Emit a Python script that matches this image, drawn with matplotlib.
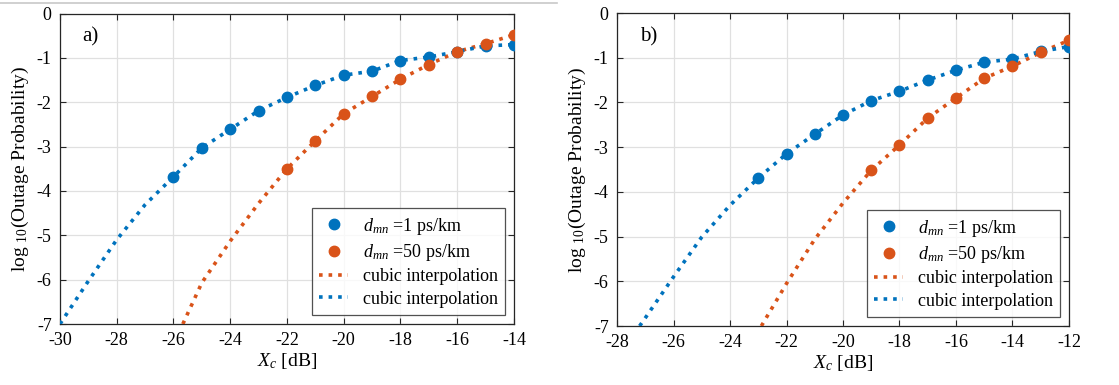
import matplotlib.pyplot as plt
from matplotlib.lines import Line2D

plt.rcParams['font.family'] = 'Liberation Serif'
plt.rcParams['mathtext.fontset'] = 'custom'
plt.rcParams['mathtext.rm'] = 'Liberation Serif'
plt.rcParams['mathtext.it'] = 'Liberation Serif:italic'
plt.rcParams['axes.unicode_minus'] = False

BLUE = '#0072BD'
ORANGE = '#D95319'

# panel a) simulated points
xa_1 = [-26, -25, -24, -23, -22, -21, -20, -19, -18, -17, -16, -15, -14]
ya_1 = [-3.68, -3.03, -2.61, -2.19, -1.89, -1.62, -1.39, -1.30, -1.06, -0.98, -0.86, -0.73, -0.70]
xa_50 = [-22, -21, -20, -19, -18, -17, -16, -15, -14]
ya_50 = [-3.50, -2.87, -2.26, -1.87, -1.48, -1.15, -0.86, -0.68, -0.48]
# panel a) cubic interpolation curves
fa_1_x = [-30, -29, -28, -27] + xa_1
fa_1_y = [-7.0, -6.03, -5.10, -4.31] + ya_1
fa_50_x = [-25.67, -25, -24, -23] + xa_50
fa_50_y = [-7.0, -6.07, -5.13, -4.28] + ya_50

# panel b) simulated points
xb_1 = [-23, -22, -21, -20, -19, -18, -17, -16, -15, -14, -13, -12]
yb_1 = [-3.69, -3.15, -2.71, -2.28, -1.96, -1.75, -1.50, -1.28, -1.10, -1.03, -0.86, -0.75]
xb_50 = [-19, -18, -17, -16, -15, -14, -13, -12]
yb_50 = [-3.52, -2.95, -2.35, -1.90, -1.46, -1.19, -0.88, -0.61]
# panel b) cubic interpolation curves
fb_1_x = [-27.2, -27, -26, -25, -24] + xb_1
fb_1_y = [-7.0, -6.82, -5.90, -5.01, -4.30] + yb_1
fb_50_x = [-22.89, -22, -21, -20] + xb_50
fb_50_y = [-7.0, -6.05, -5.06, -4.25] + yb_50

panels = [
    ('a)', [0.0536, 0.1584, 0.4057, 0.8065], (-30, -14),
     xa_1, ya_1, xa_50, ya_50, fa_1_x, fa_1_y, fa_50_x, fa_50_y),
    ('b)', [0.5514, 0.1532, 0.4039, 0.8130], (-28, -12),
     xb_1, yb_1, xb_50, yb_50, fb_1_x, fb_1_y, fb_50_x, fb_50_y),
]

fig = plt.figure(figsize=(11.19, 3.85), dpi=100)
fig.add_artist(Line2D([0, 0.498], [0.993, 0.993], color='#c8c8c8', lw=1.2))

for (tag, rect, xlim, x1, y1, x50, y50, f1x, f1y, f50x, f50y) in panels:
    ax = fig.add_axes(rect)
    ax.plot(x1, y1, 'o', color=BLUE, ms=7.5, label=r'$d_{mn}$ =1 ps/km', zorder=4)
    ax.plot(x50, y50, 'o', color=ORANGE, ms=7.5, label=r'$d_{mn}$ =50 ps/km', zorder=4)
    ax.plot(f50x, f50y, ':', color=ORANGE, lw=2.6, label='cubic interpolation', zorder=3)
    ax.plot(f1x, f1y, ':', color=BLUE, lw=2.6, label='cubic interpolation', zorder=3)

    ax.set_xlim(*xlim)
    ax.set_ylim(-7, 0)
    ax.set_xticks(range(xlim[0], xlim[1] + 1, 2))
    ax.set_yticks(range(-7, 1))
    ax.grid(True, color='#e0e0e0', lw=0.9)
    ax.set_axisbelow(True)
    ax.tick_params(direction='in', top=True, right=True, labelsize=13,
                   length=4, color='#262626', pad=6)
    for s in ax.spines.values():
        s.set_color('#262626')
        s.set_linewidth(0.9)

    ax.set_xlabel(r'$X_c$ [dB]', fontsize=14, labelpad=1)
    ax.set_ylabel(r'log $_{10}$(Outage Probability)', fontsize=14, labelpad=4)
    ax.text(0.05, 0.925, tag, transform=ax.transAxes, fontsize=15, va='center')

    leg = ax.legend(loc='lower right', fontsize=13, frameon=True, fancybox=False,
                    edgecolor='#262626', handlelength=1.6, borderaxespad=0.5,
                    labelspacing=0.3, borderpad=0.4)
    leg.get_frame().set_linewidth(0.9)

fig.savefig('out.png', dpi=100)
